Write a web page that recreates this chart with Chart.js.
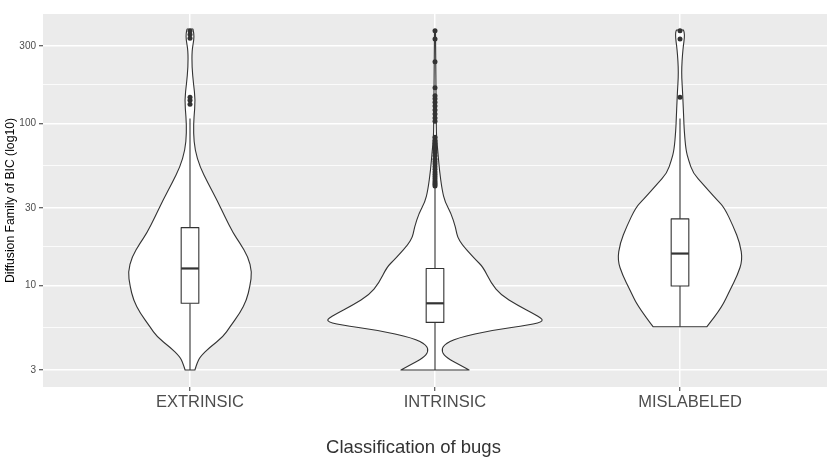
<!DOCTYPE html>
<html>
<head>
<meta charset="utf-8">
<script src="https://cdn.jsdelivr.net/npm/chart.js@4/dist/chart.umd.min.js"></script>
<style>
  html, body { margin: 0; padding: 0; background: #fff; }
  #wrap { width: 831px; height: 459px; }
</style>
</head>
<body>
<div id="wrap"><canvas id="myChart" width="831" height="459"></canvas></div>
<script>
const categories = ['EXTRINSIC', 'INTRINSIC', 'MISLABELED'];
const yTickValues = [3, 10, 30, 100, 300];
const yTickLabels = ['3', '10', '30', '100', '300'];
const yMinorValues = [5.48, 17.3, 54.8, 173];

// violin outlines: level (data value) and half width (in category units)
const extrinsicLevels = [3.0, 3.31, 3.61, 4.16, 4.8, 5.53, 6.75, 8.11, 9.9, 12.1, 15.0, 18.2, 21.0, 26.4, 33.6, 42.8, 53.7, 68.4, 87.1, 109, 139, 177, 222, 283, 327, 361, 382];
const extrinsicWidths = [0.020, 0.029, 0.041, 0.082, 0.135, 0.163, 0.204, 0.231, 0.245, 0.253, 0.237, 0.204, 0.176, 0.143, 0.110, 0.073, 0.041, 0.020, 0.014, 0.016, 0.022, 0.014, 0.008, 0.008, 0.016, 0.016, 0.012];

const intrinsicLevels = [3.0, 3.22, 3.56, 3.88, 4.28, 4.73, 5.3, 5.69, 6.02, 6.56, 7.55, 8.71, 10.3, 13.0, 14.5, 19.0, 22.9, 27.9, 32.7, 38.7, 51.5, 68.4, 82, 110, 160, 250, 373];
const intrinsicWidths = [0.139, 0.102, 0.048, 0.027, 0.034, 0.089, 0.237, 0.388, 0.449, 0.412, 0.335, 0.269, 0.229, 0.196, 0.163, 0.094, 0.084, 0.065, 0.041, 0.029, 0.018, 0.011, 0.006, 0.005, 0.004, 0.003, 0.002];

const mislabeledLevels = [5.55, 7.34, 9.35, 11.6, 14.3, 18.2, 23.0, 30.4, 33.6, 42, 49.3, 59.3, 68.4, 91, 109, 139, 161, 193, 222, 264, 304, 336, 366, 377];
const mislabeledWidths = [0.110, 0.171, 0.204, 0.235, 0.255, 0.245, 0.218, 0.180, 0.151, 0.094, 0.053, 0.035, 0.024, 0.017, 0.015, 0.012, 0.010, 0.007, 0.007, 0.010, 0.014, 0.018, 0.018, 0.014];

// boxplot stats
const boxLow = [3, 3, 5.55];
const boxQ1 = [7.74, 5.9, 9.9];
const boxMedian = [12.7, 7.74, 15.7];
const boxQ3 = [22.7, 12.7, 25.7];
const boxHigh = [107, 40.4, 107];

const extrinsicOutliers = [131, 139, 145, 335, 354, 371];
const intrinsicOutliers = [373, 331, 240, 166, 148, 142, 135, 128, 121, 114, 108, 103, 82, 78, 75, 72, 69, 66, 63, 60, 58, 56, 54, 52, 50, 48.5, 47, 45.5, 44, 43, 42, 41];
const mislabeledOutliers = [373, 331, 145];

const violinLevels = [extrinsicLevels, intrinsicLevels, mislabeledLevels];
const violinWidths = [extrinsicWidths, intrinsicWidths, mislabeledWidths];
const outlierSets = [extrinsicOutliers, intrinsicOutliers, mislabeledOutliers];

const FONT = "'Liberation Sans', Arial, sans-serif";
const LINE = '#333333';

function smoothTo(ctx, pts) {
  for (let i = 1; i < pts.length - 1; i++) {
    const mx = (pts[i].x + pts[i + 1].x) / 2;
    const my = (pts[i].y + pts[i + 1].y) / 2;
    ctx.quadraticCurveTo(pts[i].x, pts[i].y, mx, my);
  }
  const last = pts[pts.length - 1];
  ctx.lineTo(last.x, last.y);
}

const violinPlugin = {
  id: 'violins',
  beforeDraw(chart) {
    const { ctx, chartArea: a } = chart;
    ctx.save();
    ctx.fillStyle = '#EBEBEB';
    ctx.fillRect(a.left, a.top, a.right - a.left, a.bottom - a.top);
    ctx.restore();
  },
  beforeDatasetsDraw(chart) {
    const ctx = chart.ctx;
    const xs = chart.scales.x;
    const ys = chart.scales.y;
    ctx.save();
    ctx.strokeStyle = LINE;
    ctx.lineJoin = 'round';

    categories.forEach((c, i) => {
      const cx = i + 1;
      const lv = violinLevels[i];
      const wd = violinWidths[i];
      const left = lv.map((v, k) => ({ x: xs.getPixelForValue(cx - wd[k]), y: ys.getPixelForValue(v) }));
      const right = lv.map((v, k) => ({ x: xs.getPixelForValue(cx + wd[k]), y: ys.getPixelForValue(v) })).reverse();
      ctx.beginPath();
      ctx.moveTo(left[0].x, left[0].y);
      smoothTo(ctx, left);
      ctx.lineTo(right[0].x, right[0].y);
      smoothTo(ctx, right);
      ctx.closePath();
      ctx.fillStyle = '#ffffff';
      ctx.fill();
      ctx.lineWidth = 1.1;
      ctx.stroke();

      // boxplot
      const px = xs.getPixelForValue(cx);
      const bl = xs.getPixelForValue(cx - 0.036);
      const br = xs.getPixelForValue(cx + 0.036);
      const yLow = ys.getPixelForValue(boxLow[i]);
      const yQ1 = ys.getPixelForValue(boxQ1[i]);
      const yMed = ys.getPixelForValue(boxMedian[i]);
      const yQ3 = ys.getPixelForValue(boxQ3[i]);
      const yHigh = ys.getPixelForValue(boxHigh[i]);
      ctx.lineWidth = 1.1;
      ctx.beginPath();
      ctx.moveTo(px, yLow); ctx.lineTo(px, yQ1);
      ctx.moveTo(px, yQ3); ctx.lineTo(px, yHigh);
      ctx.stroke();
      ctx.fillStyle = '#ffffff';
      ctx.fillRect(bl, yQ3, br - bl, yQ1 - yQ3);
      ctx.strokeRect(bl, yQ3, br - bl, yQ1 - yQ3);
      ctx.lineWidth = 2.2;
      ctx.beginPath();
      ctx.moveTo(bl, yMed); ctx.lineTo(br, yMed);
      ctx.stroke();
    });
    ctx.restore();
  }
};

const isMajor = (v) => yTickValues.includes(v);

const ctx = document.getElementById('myChart').getContext('2d');
new Chart(ctx, {
  type: 'scatter',
  data: {
    datasets: [{
      label: 'outliers',
      data: outlierSets.flatMap((arr, i) => arr.map(v => ({ x: i + 1, y: v }))),
      pointRadius: 2.5,
      pointBackgroundColor: LINE,
      pointBorderWidth: 0,
      pointHoverRadius: 2.5
    }]
  },
  options: {
    responsive: false,
    animation: false,
    layout: { padding: { top: 14, right: 4, left: 0, bottom: 0 } },
    plugins: {
      legend: { display: false },
      tooltip: { enabled: false },
      // x axis title, centred on the whole figure like the original
      title: {
        display: true,
        position: 'bottom',
        text: 'Classification of bugs',
        color: '#333333',
        font: { family: FONT, size: 18.5, weight: 'normal', lineHeight: 1.2 },
        padding: { top: 0, bottom: 0 }
      }
    },
    scales: {
      x: {
        type: 'linear',
        min: 0.4,
        max: 3.6,
        afterBuildTicks: (s) => { s.ticks = categories.map((c, i) => ({ value: i + 1 })); },
        afterFit: (s) => { s.height = 49.8; },
        border: { display: false },
        grid: { color: '#ffffff', lineWidth: 1.5, tickColor: LINE, tickLength: 4, tickWidth: 1 },
        ticks: {
          autoSkip: false,
          maxRotation: 0,
          padding: 2,
          labelOffset: 10,
          color: '#4D4D4D',
          font: { family: FONT, size: 16.5 },
          callback: (v) => categories[v - 1] || ''
        }
      },
      y: {
        type: 'logarithmic',
        min: 2.355,
        max: 473,
        afterBuildTicks: (s) => { s.ticks = yTickValues.concat(yMinorValues).map(v => ({ value: v })); },
        afterFit: (s) => { s.width = 43; },
        border: { display: false },
        grid: {
          color: '#ffffff',
          lineWidth: (c) => (c.tick && isMajor(c.tick.value)) ? 1.5 : 0.8,
          tickColor: (c) => (c.tick && isMajor(c.tick.value)) ? LINE : 'rgba(0,0,0,0)',
          tickLength: 4,
          tickWidth: 1
        },
        ticks: {
          autoSkip: false,
          padding: 3,
          color: '#4D4D4D',
          font: { family: FONT, size: 10 },
          callback: (v) => { const k = yTickValues.indexOf(v); return k >= 0 ? yTickLabels[k] : ''; }
        },
        title: {
          display: true,
          text: 'Diffusion Family of BIC (log10)',
          color: '#000000',
          font: { family: FONT, size: 12.2 },
          padding: { top: 3, bottom: 0 }
        }
      }
    }
  },
  plugins: [violinPlugin]
});
</script>
</body>
</html>
